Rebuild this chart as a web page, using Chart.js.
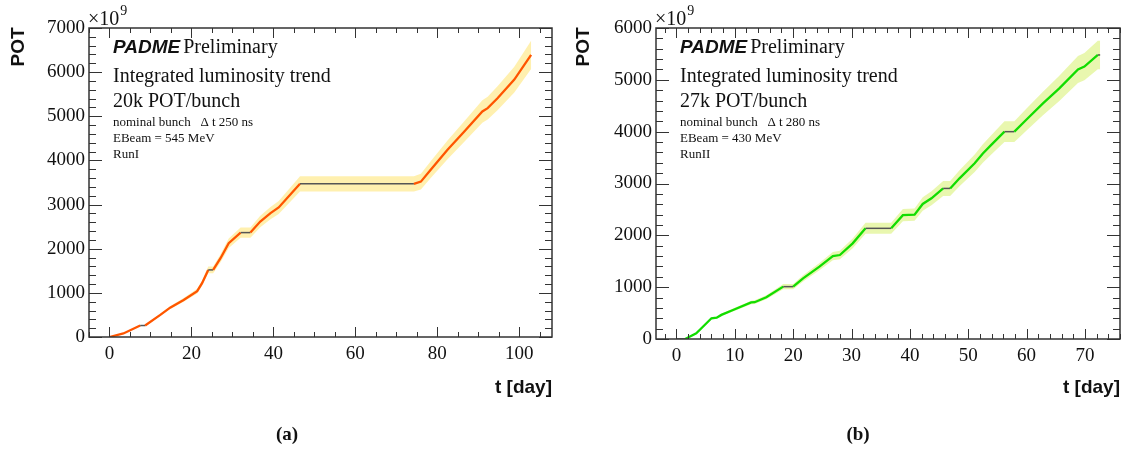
<!DOCTYPE html>
<html>
<head>
<meta charset="utf-8">
<script src="https://cdn.jsdelivr.net/npm/chart.js@4.4.1/dist/chart.umd.min.js"></script>
<style>
  body { margin: 0; background: #fff; width: 1128px; height: 450px; overflow: hidden; position: relative; }
  canvas { position: absolute; top: 0; }
</style>
</head>
<body>
<canvas id="ca" width="564" height="450" style="left:0px"></canvas>
<canvas id="cb" width="564" height="450" style="left:564px"></canvas>
<script>
// ---------- data: panel (a) Run I ----------
const daysA = [0, 3.4, 7.5, 8.7, 12.4, 14.8, 18.1, 21.4, 22.6, 24.1, 25.3, 27.1, 29.1, 32.0, 34.4, 36.8, 39.3, 41.3, 46.5, 74.3, 76.0, 78.4, 82.5, 86.6, 91.0, 92.3, 94.7, 98.8, 102.9];
const potA  = [0, 80, 260, 260, 500, 665, 840, 1040, 1220, 1520, 1520, 1785, 2125, 2365, 2365, 2615, 2805, 2935, 3470, 3470, 3520, 3790, 4240, 4655, 5110, 5185, 5410, 5830, 6390];
const xTicksA = [0, 20, 40, 60, 80, 100];
const yTicksA = [0, 1000, 2000, 3000, 4000, 5000, 6000, 7000];
const labelsA = ['Integrated luminosity trend', '20k POT/bunch'];
const smallA  = ['nominal bunch   \u0394 t 250 ns', 'EBeam = 545 MeV', 'RunI'];

// ---------- data: panel (b) Run II ----------
const daysB = [0, 1.5, 3.4, 6.0, 6.9, 7.7, 9.7, 12.8, 13.4, 15.4, 18.3, 20.0, 21.7, 24.5, 26.8, 28.0, 30.2, 32.4, 36.8, 38.8, 40.8, 42.2, 43.7, 45.7, 46.9, 48.5, 51.1, 52.5, 53.9, 56.2, 57.9, 59.9, 62.8, 65.6, 68.8, 69.9, 72.2, 72.6];
const potB  = [0, 0, 110, 400, 410, 465, 560, 705, 710, 805, 1010, 1010, 1170, 1395, 1600, 1620, 1845, 2135, 2135, 2390, 2400, 2605, 2715, 2905, 2905, 3100, 3390, 3580, 3740, 4000, 4000, 4225, 4545, 4835, 5200, 5255, 5480, 5480];
const xTicksB = [0, 10, 20, 30, 40, 50, 60, 70];
const yTicksB = [0, 1000, 2000, 3000, 4000, 5000, 6000];
const labelsB = ['Integrated luminosity trend', '27k POT/bunch'];
const smallB  = ['nominal bunch   \u0394 t 280 ns', 'EBeam = 430 MeV', 'RunII'];

// relative uncertainty of the band
const bandFrac = 0.05;

const SERIF = "'Liberation Serif', 'Times New Roman', serif";
const SANS = "'Liberation Sans', Arial, sans-serif";

const rootFrame = {
  id: 'rootFrame',
  afterDatasetsDraw(chart, args, o) {
    const { ctx, chartArea: a, scales: { x, y } } = chart;
    ctx.save();
    ctx.strokeStyle = '#333';
    ctx.lineWidth = 1;
    const isMajor = (v, m) => Math.abs(v / m - Math.round(v / m)) < 1e-6;
    for (let i = Math.ceil(x.min / o.xMinor); i * o.xMinor <= x.max + 1e-9; i++) {
      const v = i * o.xMinor;
      const px = Math.round(x.getPixelForValue(v)) + 0.5;
      const len = isMajor(v, o.xMajor) ? 10 : 5;
      ctx.beginPath();
      ctx.moveTo(px, a.bottom); ctx.lineTo(px, a.bottom - len);
      ctx.moveTo(px, a.top); ctx.lineTo(px, a.top + len);
      ctx.stroke();
    }
    for (let i = Math.ceil(y.min / o.yMinor); i * o.yMinor <= y.max + 1e-9; i++) {
      const v = i * o.yMinor;
      const py = Math.round(y.getPixelForValue(v)) + 0.5;
      const len = isMajor(v, o.yMajor) ? 13 : 7;
      ctx.beginPath();
      ctx.moveTo(a.left, py); ctx.lineTo(a.left + len, py);
      ctx.moveTo(a.right, py); ctx.lineTo(a.right - len, py);
      ctx.stroke();
    }
    ctx.lineWidth = 1.5;
    ctx.strokeRect(Math.round(a.left), Math.round(a.top), Math.round(a.right - a.left), Math.round(a.bottom - a.top));
    ctx.restore();
  }
};

const rootText = {
  id: 'rootText',
  afterDraw(chart, args, o) {
    const { ctx, chartArea: a } = chart;
    ctx.save();
    ctx.fillStyle = '#111';
    ctx.textBaseline = 'alphabetic';
    ctx.textAlign = 'left';
    // x10^9
    ctx.font = '20px ' + SERIF;
    ctx.fillText('\u00d710', a.left - 1, 25);
    const w = ctx.measureText('\u00d710').width;
    ctx.font = '14px ' + SERIF;
    ctx.fillText('9', a.left - 1 + w + 1, 15);
    // annotations
    const tx = a.left + 24;
    ctx.font = 'italic bold 19px ' + SANS;
    ctx.fillText('PADME', tx, 53);
    const wp = ctx.measureText('PADME').width;
    ctx.font = '20px ' + SERIF;
    ctx.fillText('Preliminary', tx + wp + 3, 53);
    ctx.fillText(o.labels[0], tx, 82);
    ctx.fillText(o.labels[1], tx, 107);
    ctx.font = '13px ' + SERIF;
    ctx.fillText(o.small[0], tx, 126);
    ctx.fillText(o.small[1], tx, 142);
    ctx.fillText(o.small[2], tx, 158);
    // axis titles
    ctx.font = 'bold 19px ' + SANS;
    ctx.textAlign = 'right';
    ctx.fillText('t [day]', a.right, 393);
    ctx.save();
    ctx.translate(o.yTitleX, 47);
    ctx.rotate(-Math.PI / 2);
    ctx.textAlign = 'center';
    ctx.textBaseline = 'middle';
    ctx.fillText('POT', 0, 0);
    ctx.restore();
    // caption
    ctx.font = 'bold 19px ' + SERIF;
    ctx.textAlign = 'center';
    ctx.fillText(o.caption, o.captionX, 440);
    ctx.restore();
  }
};

function buildChart(id, p) {
  const line = p.days.map((d, i) => ({ x: d, y: p.pot[i] }));
  const hi = p.days.map((d, i) => ({ x: d, y: p.pot[i] * (1 + bandFrac) }));
  const lo = p.days.map((d, i) => ({ x: d, y: p.pot[i] * (1 - bandFrac) }));
  const flat = c => c.p0.parsed.y === c.p1.parsed.y;
  return new Chart(document.getElementById(id), {
    type: 'line',
    data: {
      datasets: [
        { data: line, borderColor: p.lineColor, borderWidth: 2.3, pointRadius: 0, fill: false, tension: 0,
          segment: { borderColor: c => flat(c) ? '#555' : p.lineColor, borderWidth: c => flat(c) ? 1.5 : 2.3 } },
        { data: hi, borderWidth: 0, borderColor: 'rgba(0,0,0,0)', pointRadius: 0, fill: '+1', backgroundColor: p.bandColor, tension: 0 },
        { data: lo, borderWidth: 0, borderColor: 'rgba(0,0,0,0)', pointRadius: 0, fill: false, tension: 0 }
      ]
    },
    options: {
      responsive: false, animation: false, devicePixelRatio: 1,
      layout: { padding: { left: 0, right: p.padRight, top: 28, bottom: 0 } },
      plugins: {
        legend: { display: false }, tooltip: { enabled: false },
        rootFrame: { xMinor: p.xMinor, xMajor: p.xMajor, yMinor: 200, yMajor: 1000 },
        rootText: { labels: p.labels, small: p.small, caption: p.caption, captionX: p.captionX, yTitleX: p.yTitleX }
      },
      scales: {
        x: {
          type: 'linear', min: p.xMin, max: p.xMax,
          afterFit: s => { s.height = p.xAxisH; },
          afterBuildTicks: s => { s.ticks = p.xTicks.map(v => ({ value: v })); },
          grid: { display: false, drawTicks: false }, border: { display: false },
          ticks: { font: { family: SERIF, size: 19 }, color: '#111', padding: 6, maxRotation: 0, autoSkip: false, callback: v => String(v) }
        },
        y: {
          type: 'linear', min: 0, max: p.yMax,
          afterFit: s => { s.width = p.yAxisW; },
          afterBuildTicks: s => { s.ticks = p.yTicks.map(v => ({ value: v })); },
          grid: { display: false, drawTicks: false }, border: { display: false },
          ticks: { font: { family: SERIF, size: 19 }, color: '#111', padding: 4, autoSkip: false, callback: v => String(v) }
        }
      }
    },
    plugins: [rootFrame, rootText]
  });
}

buildChart('ca', {
  days: daysA, pot: potA, xTicks: xTicksA, yTicks: yTicksA, labels: labelsA, small: smallA,
  lineColor: '#ff5500', bandColor: 'rgba(255, 228, 110, 0.55)',
  xMin: -5, xMax: 108, yMax: 7000, xMinor: 5, xMajor: 20,
  yAxisW: 89, padRight: 12, xAxisH: 113, caption: '(a)', captionX: 287, yTitleX: 19
});
buildChart('cb', {
  days: daysB, pot: potB, xTicks: xTicksB, yTicks: yTicksB, labels: labelsB, small: smallB,
  lineColor: '#11dd00', bandColor: 'rgba(215, 240, 110, 0.55)',
  xMin: -3.5, xMax: 76, yMax: 6000, xMinor: 2, xMajor: 10,
  yAxisW: 92, padRight: 8, xAxisH: 111, caption: '(b)', captionX: 294, yTitleX: 20
});
</script>
</body>
</html>
